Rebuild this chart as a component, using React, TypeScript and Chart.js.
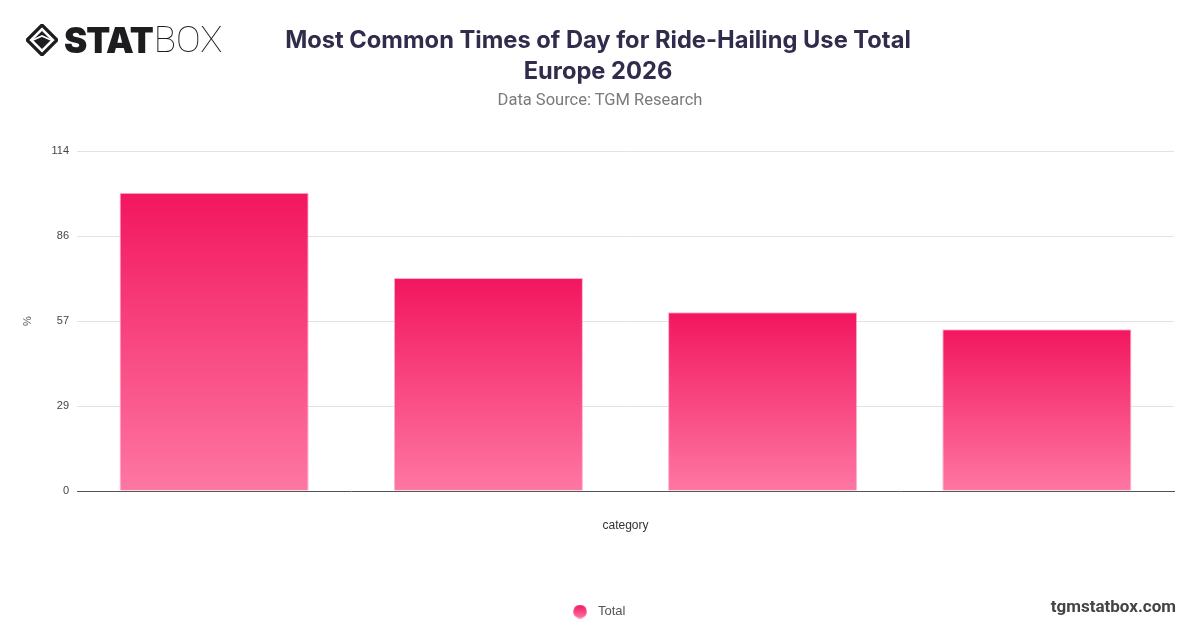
import React, { useEffect, useRef } from "react";
import { Chart, registerables } from "chart.js";

Chart.register(...registerables);

const categories = ["Time 1", "Time 2", "Time 3", "Time 4"];
const seriesLabel = "Total";
const totalValues = [100, 71.4, 59.9, 54.2];
const yTickValues = [0, 28.5, 57, 85.5, 114];
const yTickLabels = ["0", "29", "57", "86", "114"];
const titleLines = ["Most Common Times of Day for Ride-Hailing Use Total", "Europe 2026"];
const subtitleText = "Data Source: TGM Research";
const xAxisTitle = "category";
const yAxisTitle = "%";
const footerText = "tgmstatbox.com";

const TOP_COLOR = "#f2165f";
const BOTTOM_COLOR = "#fe77a3";
const SANS = "'Liberation Sans', Arial, Helvetica, sans-serif";

function Logo() {
  return (
    <div style={{ position: "absolute", left: 26, top: 20, display: "flex", alignItems: "center", height: 40 }}>
      <svg width="32" height="32" viewBox="0 0 32 32" style={{ marginRight: 6 }}>
        <path d="M16 1 L31 16 L16 31 L1 16 Z" fill="none" stroke="#1d1d1f" strokeWidth="3.2" strokeLinejoin="round" />
        <path d="M16 7 L25 16 L16 25 L7 16 Z" fill="#1d1d1f" />
        <path d="M7 16 L16 12 L25 16" fill="none" stroke="#fff" strokeWidth="1.6" />
      </svg>
      <span style={{ fontFamily: "Inter, 'DejaVu Sans', sans-serif", fontWeight: 900, fontSize: 35, color: "#1d1d1f", letterSpacing: -1, lineHeight: "40px" }}>STAT</span>
      <span style={{ fontFamily: "Roboto, 'Open Sans', sans-serif", fontWeight: 100, fontSize: 37, color: "#1d1d1f", lineHeight: "40px", marginLeft: 1 }}>BOX</span>
    </div>
  );
}

function legendDot(): HTMLCanvasElement {
  const c = document.createElement("canvas");
  c.width = 14;
  c.height = 14;
  const x = c.getContext("2d");
  if (x) {
    const g = x.createLinearGradient(0, 0, 0, 14);
    g.addColorStop(0, TOP_COLOR);
    g.addColorStop(1, BOTTOM_COLOR);
    x.fillStyle = g;
    x.beginPath();
    x.arc(7, 7, 6.8, 0, Math.PI * 2);
    x.fill();
  }
  return c;
}

export default function App() {
  const canvasRef = useRef<HTMLCanvasElement | null>(null);

  useEffect(() => {
    const canvas = canvasRef.current;
    if (!canvas) return;
    Chart.defaults.font.family = SANS;
    const dot = legendDot();

    const barGradient = (ctx: any) => {
      const chart = ctx.chart;
      const area = chart.chartArea;
      const y = chart.scales && chart.scales.y;
      if (!area || !y || ctx.type !== "data") return TOP_COLOR;
      const top = y.getPixelForValue(ctx.raw as number);
      const bottom = y.getPixelForValue(0);
      const g = chart.ctx.createLinearGradient(0, top, 0, bottom);
      g.addColorStop(0, TOP_COLOR);
      g.addColorStop(1, BOTTOM_COLOR);
      return g;
    };

    const chart = new Chart(canvas, {
      type: "bar",
      data: {
        labels: categories,
        datasets: [
          {
            label: seriesLabel,
            data: totalValues,
            backgroundColor: barGradient,
            borderColor: "rgba(255,170,200,0.9)",
            borderWidth: 1,
            categoryPercentage: 0.8,
            barPercentage: 0.862,
          },
        ],
      },
      options: {
        responsive: false,
        animation: false,
        devicePixelRatio: 1,
        layout: { padding: { top: 151, right: 26, bottom: 0, left: 20 } },
        plugins: {
          title: { display: false },
          tooltip: { enabled: false },
          legend: {
            display: true,
            position: "bottom",
            labels: {
              usePointStyle: true,
              pointStyleWidth: 23,
              boxHeight: 10,
              padding: 10,
              color: "#555",
              font: { size: 13, family: SANS },
              generateLabels: (chart: any) => [
                {
                  text: chart.data.datasets[0].label,
                  fillStyle: TOP_COLOR,
                  strokeStyle: "rgba(0,0,0,0)",
                  lineWidth: 0,
                  pointStyle: dot,
                  hidden: false,
                  datasetIndex: 0,
                  fontColor: "#555",
                },
              ],
            },
          },
        },
        scales: {
          x: {
            grid: { display: false, drawTicks: false },
            border: { display: true, color: "#555", width: 1 },
            ticks: { display: false },
            title: {
              display: true,
              text: xAxisTitle,
              color: "#333",
              font: { size: 12, family: SANS },
              padding: { top: 0, bottom: 62 },
            },
            afterFit: (scale: any) => {
              scale.height = 104;
            },
          },
          y: {
            min: 0,
            max: 114,
            afterBuildTicks: (scale: any) => {
              scale.ticks = yTickValues.map((v) => ({ value: v }));
            },
            grid: {
              drawTicks: false,
              color: (c: any) => (c.tick && c.tick.value === 0 ? "rgba(0,0,0,0)" : "#e2e2e2"),
              lineWidth: 1,
            },
            border: { display: false },
            ticks: {
              padding: 8,
              color: "#444",
              font: { size: 11, family: SANS },
              callback: (_v: any, i: number) => yTickLabels[i],
            },
            title: {
              display: true,
              text: yAxisTitle,
              color: "#555",
              font: { size: 11, family: SANS },
              padding: { top: 1.5, bottom: 0 },
            },
            afterFit: (scale: any) => {
              scale.width = 57;
            },
          },
        },
      },
    } as any);

    return () => chart.destroy();
  }, []);

  return (
    <div style={{ position: "absolute", left: 0, top: 0, width: 1200, height: 628, background: "#fff", overflow: "hidden" }}>
      <canvas ref={canvasRef} width={1200} height={628} style={{ position: "absolute", left: 0, top: 0, width: 1200, height: 628 }} />
      <Logo />
      <div style={{ position: "absolute", left: 0, top: 24, width: 1196, textAlign: "center", fontFamily: "Inter, 'Open Sans', sans-serif", fontWeight: 700, fontSize: 23.7, lineHeight: "31px", color: "#302c4b", pointerEvents: "none" }}>
        {titleLines.map((t, i) => (
          <div key={i}>{t}</div>
        ))}
      </div>
      <div style={{ position: "absolute", left: 0, top: 90, width: 1200, textAlign: "center", fontFamily: "Roboto, 'Liberation Sans', sans-serif", fontSize: 16.5, color: "#7a7a7a", pointerEvents: "none" }}>
        {subtitleText}
      </div>
      <div style={{ position: "absolute", right: 24, top: 596, fontFamily: "Roboto, 'Liberation Sans', sans-serif", fontWeight: 700, fontSize: 17, color: "#444", pointerEvents: "none" }}>
        {footerText}
      </div>
    </div>
  );
}
